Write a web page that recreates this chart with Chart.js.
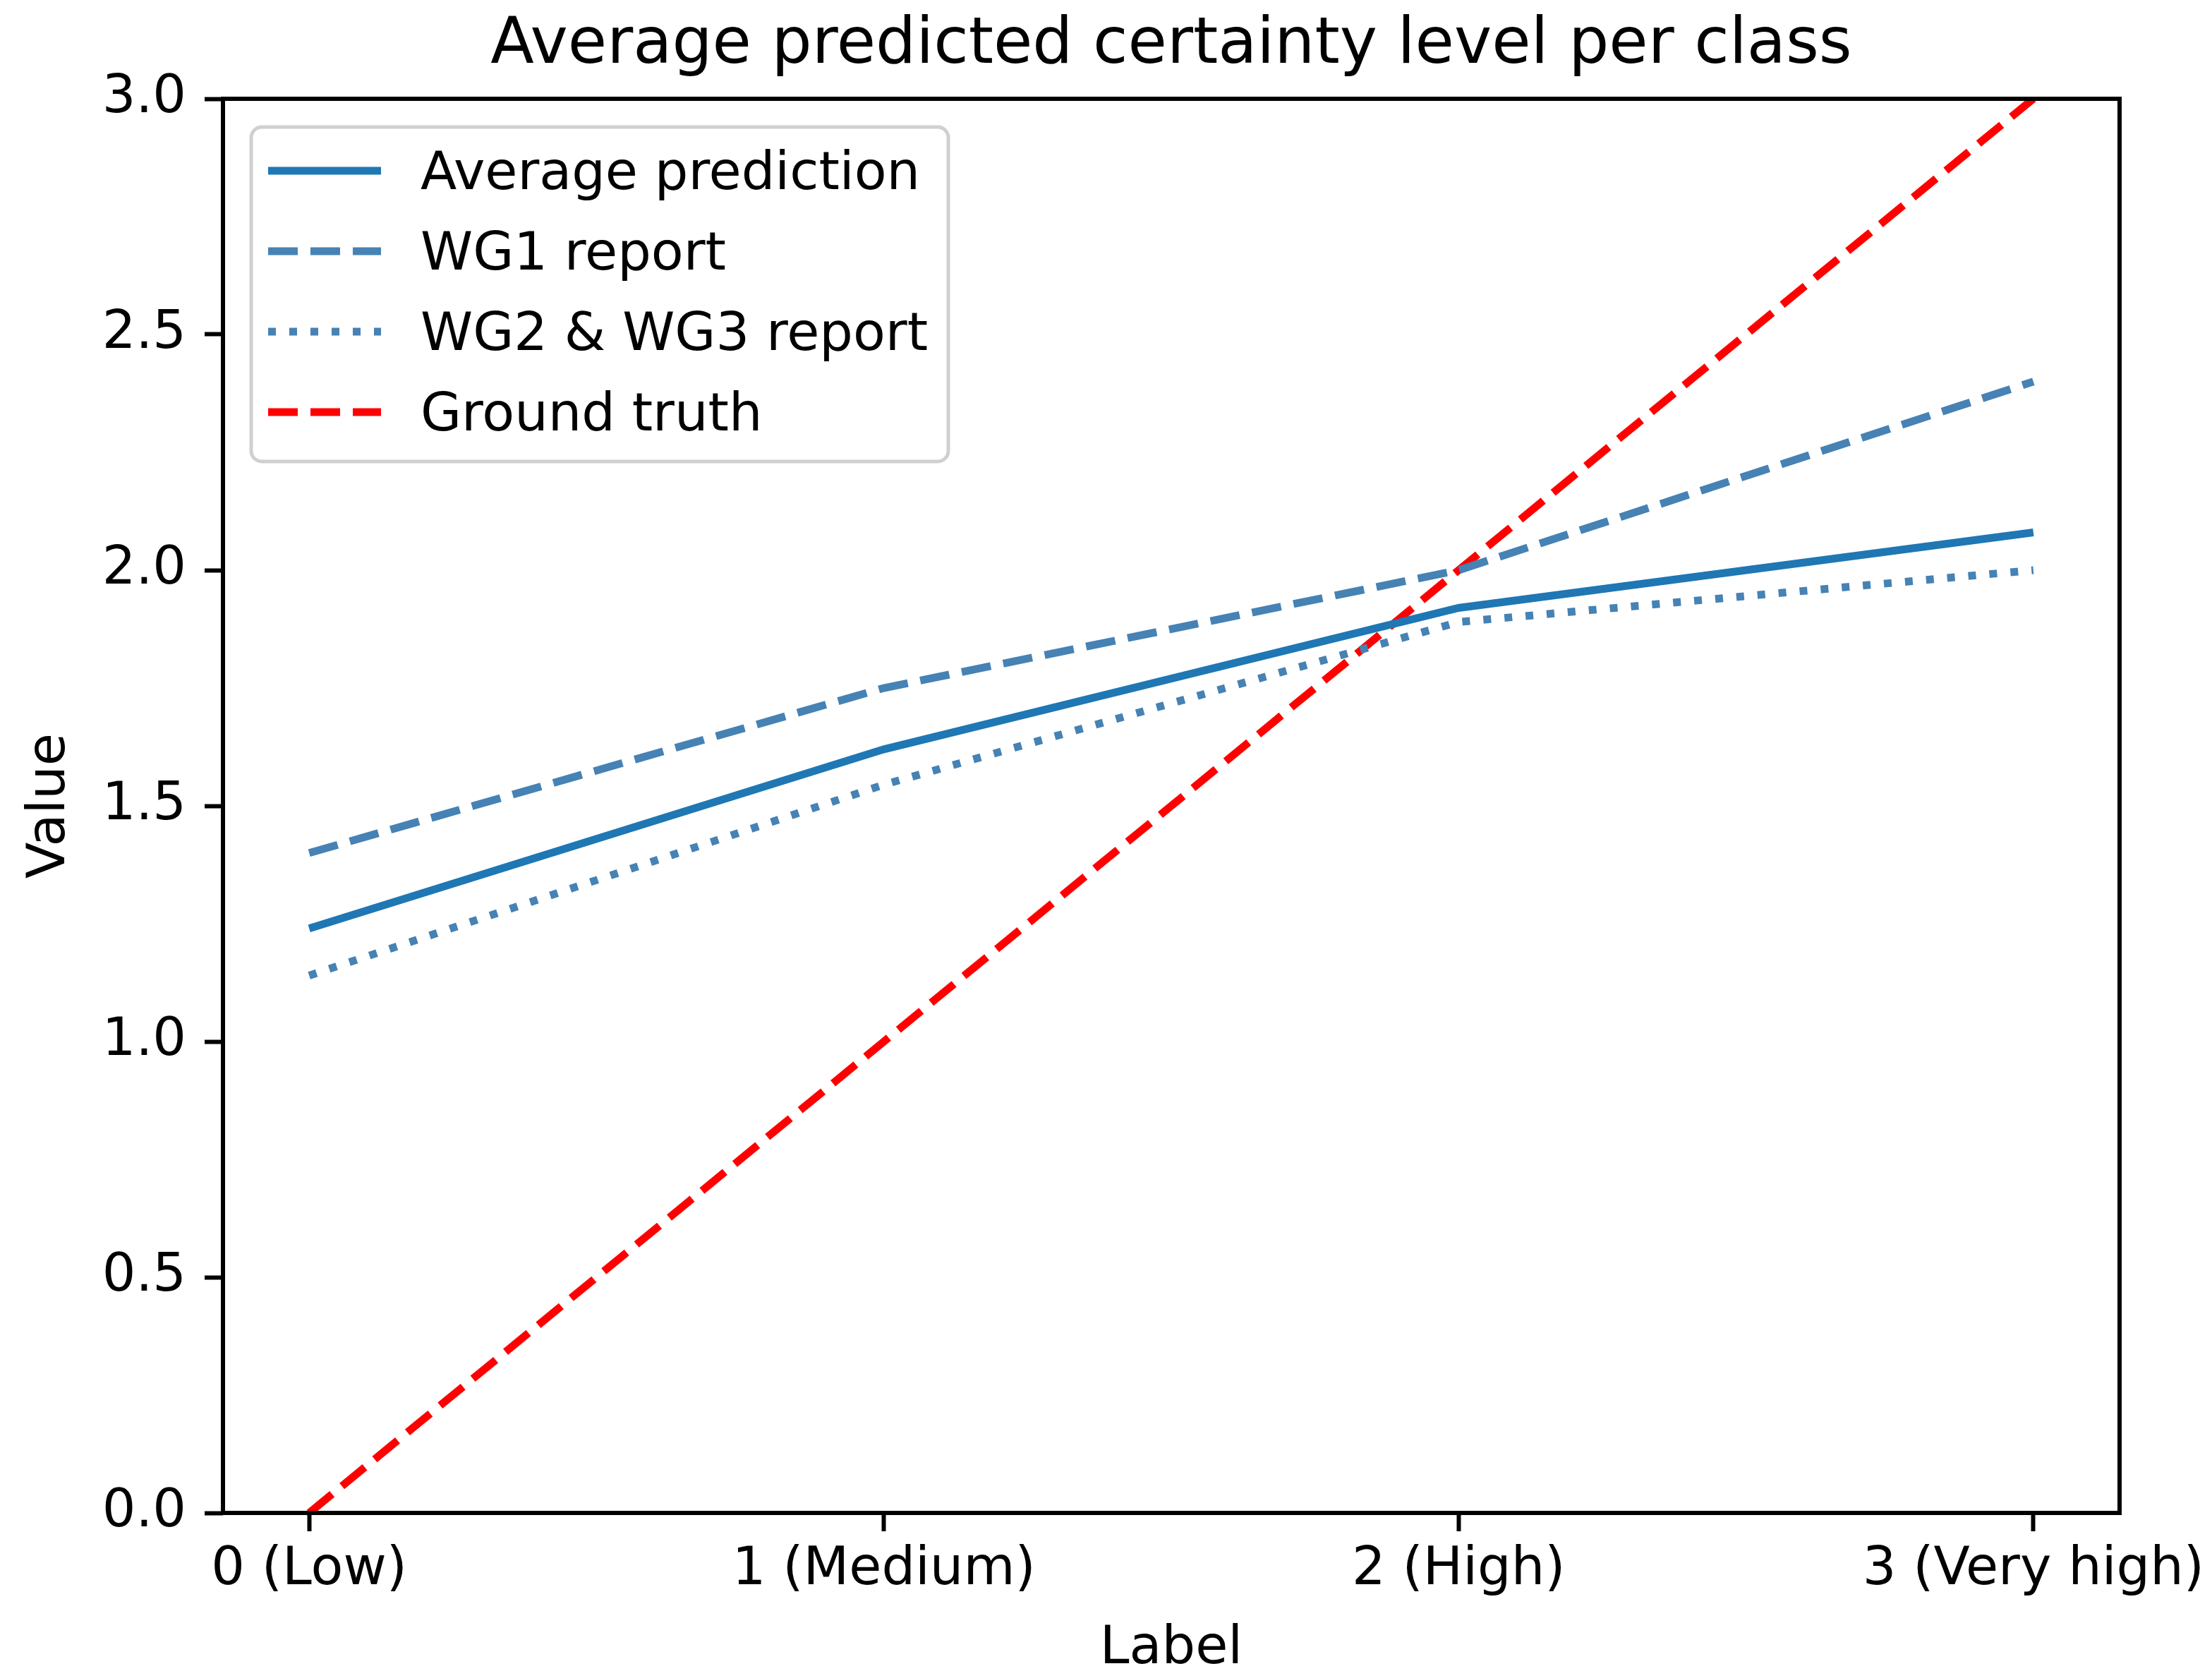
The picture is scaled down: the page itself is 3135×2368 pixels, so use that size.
<!DOCTYPE html>
<html>
<head>
<meta charset="utf-8">
<script src="https://cdn.jsdelivr.net/npm/chart.js@4"></script>
<style>
  body { margin: 0; background: #ffffff; }
  canvas { display: block; }
</style>
</head>
<body>
<canvas id="chart" width="3135" height="2368" style="width:3135px;height:2368px"></canvas>
<script>
// Data
const levels = [0, 1, 2, 3];
const levelLabels = ['0 (Low)', '1 (Medium)', '2 (High)', '3 (Very high)'];
const averagePrediction = [1.24, 1.62, 1.92, 2.08];
const wg1Report = [1.40, 1.75, 2.00, 2.40];
const wg23Report = [1.14, 1.545, 1.89, 2.00];
const groundTruth = [0, 1, 2, 3];
const yTicks = [0, 0.5, 1.0, 1.5, 2.0, 2.5, 3.0];
const chartTitle = 'Average predicted certainty level per class';
const xTitle = 'Label';

const FONT = '"DejaVu Sans", sans-serif';

function points(values) {
    return levels.map((x, i) => ({ x: x, y: values[i] }));
}

// Title centred over the plot area and the x axis title under the labels
const plotTitles = {
    id: 'plotTitles',
    afterDraw(chart) {
        const { ctx, chartArea: a } = chart;
        const cx = (a.left + a.right) / 2;
        ctx.save();
        ctx.fillStyle = '#000000';
        ctx.textAlign = 'center';
        ctx.textBaseline = 'middle';
        ctx.font = '90px ' + FONT;
        ctx.fillText(chartTitle, cx, 66);
        ctx.font = '75px ' + FONT;
        ctx.fillText(xTitle, cx, a.bottom + 194);
        ctx.restore();
    }
};

// Box round the plot area, like the matplotlib spines
const spines = {
    id: 'spines',
    afterDraw(chart) {
        const { ctx, chartArea: a } = chart;
        ctx.save();
        ctx.strokeStyle = '#000000';
        ctx.lineWidth = 6;
        ctx.strokeRect(a.left, a.top, a.right - a.left, a.bottom - a.top);
        ctx.restore();
    }
};

// Legend inside the plot, upper left
const legendBox = {
    id: 'legendBox',
    afterDatasetsDraw(chart) {
        const { ctx, chartArea } = chart;
        const x0 = chartArea.left + 40;
        const y0 = chartArea.top + 40;
        ctx.save();
        ctx.fillStyle = 'rgba(255,255,255,0.8)';
        ctx.strokeStyle = '#d0d0d0';
        ctx.lineWidth = 5;
        ctx.beginPath();
        ctx.roundRect(x0, y0, 988, 474, 15);
        ctx.fill();
        ctx.stroke();
        ctx.font = '75px ' + FONT;
        ctx.textBaseline = 'middle';
        chart.data.datasets.forEach((ds, i) => {
            const y = y0 + 62 + i * 114;
            ctx.strokeStyle = ds.borderColor;
            ctx.lineWidth = ds.borderWidth;
            ctx.lineCap = 'butt';
            ctx.setLineDash(ds.borderDash || []);
            ctx.beginPath();
            ctx.moveTo(x0 + 24, y);
            ctx.lineTo(x0 + 184, y);
            ctx.stroke();
            ctx.setLineDash([]);
            ctx.fillStyle = '#000000';
            ctx.fillText(ds.label, x0 + 240, y + 7);
        });
        ctx.restore();
    }
};

const tickFont = { family: FONT, size: 75, lineHeight: 1 };

new Chart(document.getElementById('chart'), {
    type: 'line',
    data: {
        datasets: [
            {
                label: 'Average prediction',
                data: points(averagePrediction),
                borderColor: '#1f77b4',
                borderWidth: 11
            },
            {
                label: 'WG1 report',
                data: points(wg1Report),
                borderColor: '#4682b4',
                borderWidth: 11,
                borderDash: [42, 18]
            },
            {
                label: 'WG2 & WG3 report',
                data: points(wg23Report),
                borderColor: '#4682b4',
                borderWidth: 11,
                borderDash: [11, 19]
            },
            {
                label: 'Ground truth',
                data: points(groundTruth),
                borderColor: '#ff0000',
                borderWidth: 11,
                borderDash: [42, 18]
            }
        ]
    },
    options: {
        responsive: false,
        devicePixelRatio: 1,
        animation: false,
        layout: { padding: { left: 0, top: 140, right: 131, bottom: 0 } },
        elements: {
            point: { radius: 0 },
            line: { tension: 0, borderCapStyle: 'butt', fill: false }
        },
        plugins: {
            legend: { display: false },
            tooltip: { enabled: false },
            title: { display: false }
        },
        scales: {
            x: {
                type: 'linear',
                min: -0.15,
                max: 3.15,
                afterBuildTicks: s => { s.ticks = levels.map(v => ({ value: v })); },
                afterFit: s => {
                    s.height = 224;
                    s.paddingLeft = 0;
                    s.paddingRight = 0;
                },
                ticks: {
                    color: '#000000',
                    font: tickFont,
                    padding: 18,
                    maxRotation: 0,
                    autoSkip: false,
                    callback: v => levelLabels[levels.indexOf(v)]
                },
                grid: {
                    drawOnChartArea: false,
                    drawTicks: true,
                    tickLength: 26,
                    tickWidth: 6,
                    tickColor: '#000000'
                },
                border: { display: false },
                title: { display: false }
            },
            y: {
                min: 0,
                max: 3,
                afterBuildTicks: s => { s.ticks = yTicks.map(v => ({ value: v })); },
                afterFit: s => {
                    s.width = 316;
                    s.paddingTop = 0;
                    s.paddingBottom = 0;
                },
                ticks: {
                    color: '#000000',
                    font: tickFont,
                    padding: 26,
                    callback: v => v.toFixed(1)
                },
                grid: {
                    drawOnChartArea: false,
                    drawTicks: true,
                    tickLength: 26,
                    tickWidth: 6,
                    tickColor: '#000000'
                },
                border: { display: false },
                title: {
                    display: true,
                    text: 'Value',
                    color: '#000000',
                    font: tickFont,
                    padding: { top: 34, bottom: 0 }
                }
            }
        }
    },
    plugins: [spines, legendBox, plotTitles]
});
</script>
</body>
</html>
